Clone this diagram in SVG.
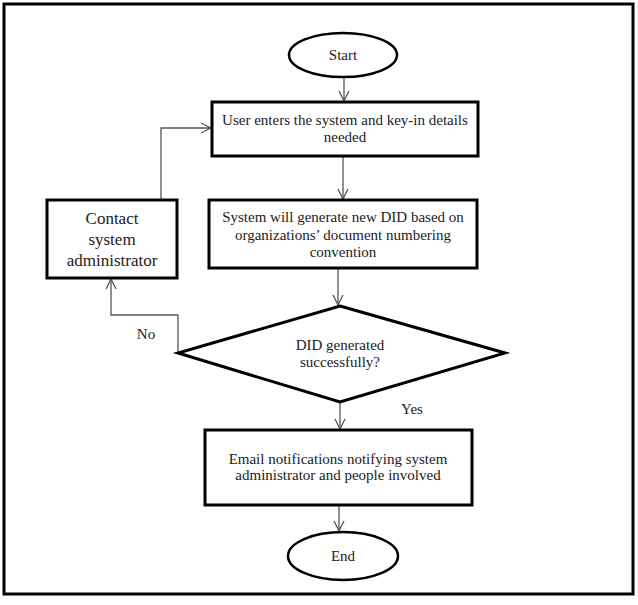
<svg xmlns="http://www.w3.org/2000/svg" width="638" height="605" viewBox="0 0 638 605">
<style>
.box{fill:#fff;stroke:#000;stroke-width:3}
.term{fill:#fff;stroke:#000;stroke-width:2.5}
.t{font-family:"Liberation Serif","Times New Roman",serif;font-size:15px;fill:#222;text-anchor:middle}
.big{font-size:17px}
.c{fill:none;stroke:#555;stroke-width:1.3}
</style>
<defs>
<marker id="ah" viewBox="0 0 12 12" refX="11" refY="6" markerWidth="12" markerHeight="12" markerUnits="userSpaceOnUse" orient="auto">
<path d="M1,1 L11,6 L1,11" fill="none" stroke="#555" stroke-width="1.3"/>
</marker>
</defs>
<rect x="0" y="0" width="638" height="605" fill="#fff"/>
<rect x="4" y="4" width="629" height="590" fill="none" stroke="#000" stroke-width="3"/>
<g id="connectors">
<path class="c" d="M344,77 V101" marker-end="url(#ah)"/>
<path class="c" d="M343,156 V199" marker-end="url(#ah)"/>
<path class="c" d="M338,268 V305" marker-end="url(#ah)"/>
<path class="c" d="M340,402 V429" marker-end="url(#ah)"/>
<path class="c" d="M339,505 V531" marker-end="url(#ah)"/>
<path class="c" d="M178,353 V315 H111 V279" marker-end="url(#ah)"/>
<path class="c" d="M161,200 V128 H211" marker-end="url(#ah)"/>
<text class="t" x="146" y="339">No</text>
<text class="t" x="412" y="414">Yes</text>
</g>
<g id="start">
<ellipse class="term" cx="343" cy="55" rx="54" ry="22"/>
<text class="t" x="343" y="60">Start</text>
</g>
<g id="enter">
<rect class="box" x="212" y="102" width="266" height="54"/>
<text class="t" x="345" y="125">User enters the system and key-in details</text>
<text class="t" x="345" y="142">needed</text>
</g>
<g id="generate">
<rect class="box" x="209" y="200" width="268" height="68"/>
<text class="t" x="343" y="222">System will generate new DID based on</text>
<text class="t" x="343" y="240">organizations’ document numbering</text>
<text class="t" x="343" y="257">convention</text>
</g>
<g id="contact">
<rect class="box" x="47" y="200" width="130" height="78"/>
<text class="t big" x="112" y="224">Contact</text>
<text class="t big" x="112" y="245">system</text>
<text class="t big" x="112" y="266">administrator</text>
</g>
<g id="decision">
<polygon class="box" points="340,306 505,353 340,402 178,353"/>
<text class="t" x="340" y="350">DID generated</text>
<text class="t" x="340" y="367">successfully?</text>
</g>
<g id="email">
<rect class="box" x="205" y="430" width="267" height="75"/>
<text class="t" x="338" y="464">Email notifications notifying system</text>
<text class="t" x="338" y="480">administrator and people involved</text>
</g>
<g id="end">
<ellipse class="term" cx="343" cy="556" rx="55" ry="24"/>
<text class="t" x="343" y="561">End</text>
</g>
</svg>
